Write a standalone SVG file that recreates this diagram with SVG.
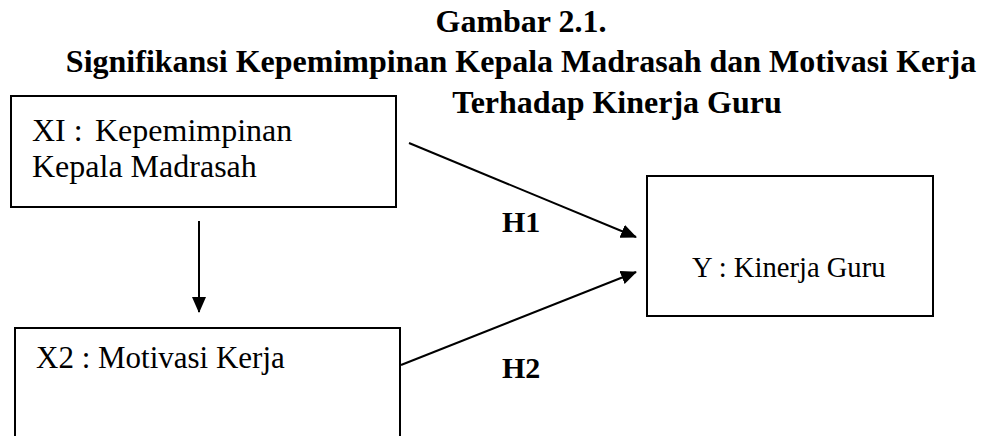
<svg xmlns="http://www.w3.org/2000/svg" width="982" height="436" viewBox="0 0 982 436">
  <style>
    .box { fill: #fff; stroke: #000; stroke-width: 2; }
    .title { font-family: "Liberation Serif", "Times New Roman", serif; font-weight: bold; font-size: 32px; fill: #000; }
    .label { font-family: "Liberation Serif", "Times New Roman", serif; fill: #000; }
    .hyp { font-family: "Liberation Serif", "Times New Roman", serif; font-weight: bold; font-size: 30px; fill: #000; }
    .edge { stroke: #000; stroke-width: 2; fill: none; marker-end: url(#arrow); }
  </style>
  <defs>
    <marker id="arrow" markerUnits="userSpaceOnUse" markerWidth="16" markerHeight="14" refX="15" refY="7" orient="auto">
      <path d="M0,0 L16,7 L0,14 Z" fill="#000"/>
    </marker>
  </defs>

  <rect width="982" height="436" fill="#fff"/>

  <!-- heading -->
  <g id="heading">
    <text class="title" x="521" y="32" text-anchor="middle">Gambar 2.1.</text>
    <text class="title" x="521" y="72" text-anchor="middle">Signifikansi Kepemimpinan Kepala Madrasah dan Motivasi Kerja</text>
    <text class="title" x="617" y="113" text-anchor="middle">Terhadap Kinerja Guru</text>
  </g>

  <!-- X1 -->
  <g id="x1">
    <rect class="box" x="11" y="96" width="385" height="111"/>
    <text class="label" x="32" y="141" font-size="32">XI : <tspan x="95">Kepemimpinan</tspan></text>
    <text class="label" x="32" y="177" font-size="32">Kepala Madrasah</text>
  </g>

  <!-- X2 -->
  <g id="x2">
    <rect class="box" x="15" y="328" width="385" height="130"/>
    <text class="label" x="36" y="368" font-size="31">X2 : Motivasi Kerja</text>
  </g>

  <!-- Y -->
  <g id="y">
    <rect class="box" x="647" y="176" width="286" height="140"/>
    <text class="label" x="692" y="277" font-size="28.6">Y : Kinerja Guru</text>
  </g>

  <!-- connectors -->
  <g id="connectors">
    <line class="edge" x1="199" y1="221" x2="199" y2="312"/>
    <line class="edge" x1="409" y1="143" x2="636" y2="237"/>
    <line class="edge" x1="401" y1="365" x2="636" y2="272"/>
    <text class="hyp" x="502" y="232">H1</text>
    <text class="hyp" x="502" y="378">H2</text>
  </g>
</svg>
